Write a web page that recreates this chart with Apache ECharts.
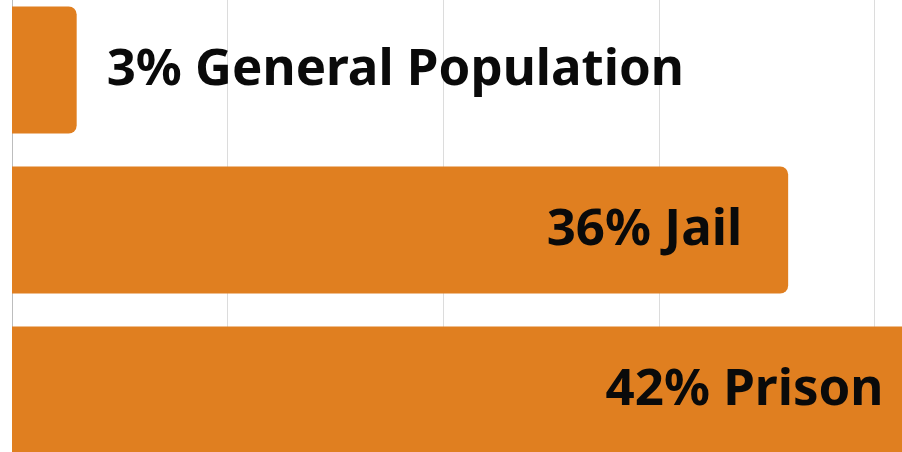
<!DOCTYPE html>
<html><head><meta charset="utf-8">
<script src="https://cdn.jsdelivr.net/npm/echarts@6/dist/echarts.min.js"></script>
<style>html,body{margin:0;padding:0;background:#fff;}#c{width:902px;height:452px;}</style>
</head><body><div id="c"></div>
<script>
const categories = ['General Population', 'Jail', 'Prison'];
const values = [3, 36, 42];
const labelDistances = [30, 46, 34];
const labelPositions = ['right', 'insideRight', 'insideRight'];

const chart = echarts.init(document.getElementById('c'), null, {renderer: 'canvas'});
chart.setOption({
  animation: false,
  grid: {left: 12, top: -10, width: 1078, height: 480, containLabel: false, outerBoundsMode: 'none'},
  xAxis: {
    type: 'value', min: 0, max: 50, interval: 10,
    axisLabel: {show: false}, axisTick: {show: false}, axisLine: {show: false},
    splitLine: {show: true, lineStyle: {color: '#dcdcdc', width: 1}}
  },
  yAxis: {
    type: 'category', data: categories, inverse: true,
    axisLabel: {show: false}, axisTick: {show: false},
    axisLine: {show: true, lineStyle: {color: '#bdbdbd', width: 1}}
  },
  series: [{
    type: 'bar',
    barWidth: 127,
    data: values.map((v, i) => ({
      value: v,
      label: {
        show: true,
        position: labelPositions[i],
        distance: labelDistances[i],
        formatter: v + '% ' + categories[i],
        fontFamily: 'Noto Sans',
        fontWeight: 'bold',
        fontSize: 51,
        color: '#0a0a0a'
      }
    })),
    itemStyle: {color: '#e07f20', borderRadius: [0, 8, 8, 0]}
  }]
});
</script></body></html>
